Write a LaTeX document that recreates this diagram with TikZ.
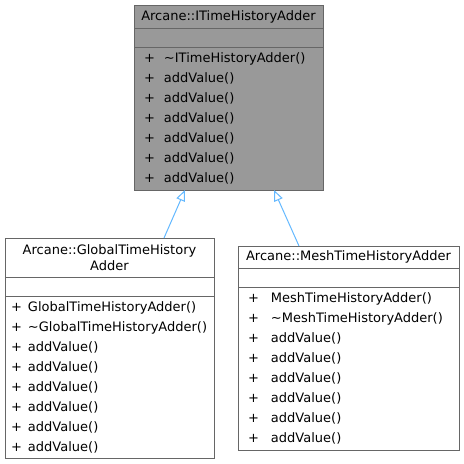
\documentclass[tikz,border=0pt]{standalone}
\usepackage{fontspec}
\setmainfont{DejaVu Sans}
\usepackage{tikz}
\usetikzlibrary{arrows.meta, positioning}
\definecolor{dBorder}{HTML}{666666}
\definecolor{dGrayFill}{HTML}{999999}
\definecolor{dEdgeBlue}{HTML}{63B8FF}
\newcommand{\op}[2][20pt]{\makebox[#1][l]{+}#2}

\begin{document}
\begin{tikzpicture}[x=1pt, y=1pt, >={Triangle[open, length=11pt, width=9pt]}, line width=1pt, node distance=0pt,
    every node/.style={outer sep=0pt}, font=\fontsize{13}{20}\selectfont]
  \useasboundingbox (0,0) rectangle (464,-464);
  % base class
  \node[draw=dBorder, fill=dGrayFill, minimum width=189pt, minimum height=23pt, inner sep=0pt] (base) at (228.5,-16.5) {Arcane::ITimeHistoryAdder};
  \node[draw=dBorder, fill=dGrayFill, minimum width=189pt, minimum height=19pt, below=of base] (baseattr) {};
  \node[draw=dBorder, fill=dGrayFill, text width=169pt, inner xsep=10pt, minimum height=143pt, align=left, below=of baseattr] (baseops)
    {\op{\textasciitilde ITimeHistoryAdder()}\\ \op{addValue()}\\ \op{addValue()}\\ \op{addValue()}\\ \op{addValue()}\\ \op{addValue()}\\ \op{addValue()}};
  % derived classes
  \node[draw=dBorder, fill=white, minimum width=209pt, minimum height=39pt, inner sep=0pt, align=center, font=\fontsize{13}{16}\selectfont] (gta) at (109.5,-257.5) {Arcane::GlobalTimeHistory\\Adder};
  \node[draw=dBorder, fill=white, minimum width=209pt, minimum height=19pt, below=of gta] (gtaattr) {};
  \node[draw=dBorder, fill=white, text width=197pt, inner xsep=6pt, minimum height=162pt, align=left, below=of gtaattr] (gtaops)
    {\op[17pt]{GlobalTimeHistoryAdder()}\\ \op[17pt]{\textasciitilde GlobalTimeHistoryAdder()}\\ \op[17pt]{addValue()}\\ \op[17pt]{addValue()}\\ \op[17pt]{addValue()}\\ \op[17pt]{addValue()}\\ \op[17pt]{addValue()}\\ \op[17pt]{addValue()}};
  \node[draw=dBorder, fill=white, minimum width=221pt, minimum height=22pt, inner sep=0pt] (mta) at (348.5,-257) {Arcane::MeshTimeHistoryAdder};
  \node[draw=dBorder, fill=white, minimum width=221pt, minimum height=19pt, below=of mta] (mtaattr) {};
  \node[draw=dBorder, fill=white, text width=201pt, inner xsep=10pt, minimum height=163pt, align=left, below=of mtaattr] (mtaops)
    {\op[23pt]{MeshTimeHistoryAdder()}\\ \op[23pt]{\textasciitilde MeshTimeHistoryAdder()}\\ \op[23pt]{addValue()}\\ \op[23pt]{addValue()}\\ \op[23pt]{addValue()}\\ \op[23pt]{addValue()}\\ \op[23pt]{addValue()}\\ \op[23pt]{addValue()}};
  % inheritance
  \draw[<-, dEdgeBlue] ([xshift=-43.5pt]baseops.south) -- ([xshift=54.5pt]gta.north);
  \draw[<-, dEdgeBlue] ([xshift=45.5pt]baseops.south) -- ([xshift=-49.5pt]mta.north);
\end{tikzpicture}
\end{document}
